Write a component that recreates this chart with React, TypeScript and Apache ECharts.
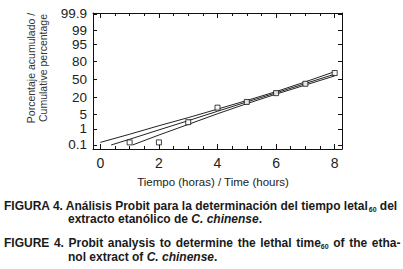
import React, { useEffect, useRef } from "react";
import * as echarts from "echarts";

// Observed cumulative mortality (%) per hour
const hours = [1, 2, 3, 4, 5, 6, 7, 8];
const observedPct = [0.15, 0.15, 2.2, 9.2, 14.5, 26, 42, 62];

// Fitted probit line and confidence limits (%)
const fitHours = [0.37, 1, 2, 3, 4, 5, 6, 7, 8];
const fitPct = [0.1, 0.24, 0.87, 2.6, 6.7, 14.5, 26.4, 42.5, 59.9];
const upperHours = [0, 1, 2, 3, 4, 5, 6, 7, 8];
const upperPct = [0.15, 0.49, 1.46, 3.6, 8.1, 16.1, 28.4, 45.6, 64.4];
const lowerHours = [1.1, 2, 3, 4, 5, 6, 7, 8];
const lowerPct = [0.1, 0.44, 1.7, 5.3, 12.7, 24.5, 39.7, 56.7];

// Axis ticks
const yTickPct = [0.1, 1, 5, 20, 50, 80, 95, 99, 99.9];
const yTickLabels = ["0.1", "1", "5", "20", "50", "80", "95", "99", "99.9"];
const xMajorTicks = [0, 2, 4, 6, 8];
const xMinorTicks = [0, 0.5, 1, 1.5, 2, 2.5, 3, 3.5, 4, 4.5, 5, 5.5, 6, 6.5, 7, 7.5, 8];

const xAxisName = "Tiempo (horas) / Time (hours)";
const yAxisName = ["Porcentaje acumulado /", "Cumulative percentage"];

// inverse standard normal CDF (Acklam)
function probit(pct: number): number {
  const p = pct / 100;
  const a = [-3.969683028665376e1, 2.209460984245205e2, -2.759285104469687e2, 1.38357751867269e2, -3.066479806614716e1, 2.506628277459239];
  const b = [-5.447609879822406e1, 1.615858368580409e2, -1.556989798598866e2, 6.680131188771972e1, -1.328068155288572e1];
  const c = [-7.784894002430293e-3, -3.223964580411365e-1, -2.400758277161838, -2.549732539343734, 4.374664141464968, 2.938163982698783];
  const d = [7.784695709041462e-3, 3.224671290700398e-1, 2.445134137142996, 3.754408661907416];
  const pl = 0.02425;
  if (p < pl) {
    const q = Math.sqrt(-2 * Math.log(p));
    return (((((c[0] * q + c[1]) * q + c[2]) * q + c[3]) * q + c[4]) * q + c[5]) / ((((d[0] * q + d[1]) * q + d[2]) * q + d[3]) * q + 1);
  }
  if (p > 1 - pl) {
    const q = Math.sqrt(-2 * Math.log(1 - p));
    return -(((((c[0] * q + c[1]) * q + c[2]) * q + c[3]) * q + c[4]) * q + c[5]) / ((((d[0] * q + d[1]) * q + d[2]) * q + d[3]) * q + 1);
  }
  const q = p - 0.5;
  const r = q * q;
  return ((((((a[0] * r + a[1]) * r + a[2]) * r + a[3]) * r + a[4]) * r + a[5]) * q) / (((((b[0] * r + b[1]) * r + b[2]) * r + b[3]) * r + b[4]) * r + 1);
}

const FONT = "'Liberation Sans', Arial, sans-serif";

export default function App() {
  const ref = useRef<HTMLDivElement>(null);

  useEffect(() => {
    if (!ref.current) return;
    const chart = echarts.init(ref.current, undefined, { renderer: "svg" });
    const yTickVals = yTickPct.map(probit);
    const pairs = (xs: number[], ps: number[]) => xs.map((x, i) => [x, probit(ps[i])]);
    const labelFor = (v: number) => {
      let best = 0;
      yTickVals.forEach((t, i) => {
        if (Math.abs(t - v) < Math.abs(yTickVals[best] - v)) best = i;
      });
      return yTickLabels[best];
    };
    const axisLine = { show: true, onZero: false, lineStyle: { color: "#111", width: 1 } };
    const noLine = { show: false, onZero: false };
    const lineSeries = (name: string, data: number[][]) => ({
      name,
      type: "line",
      data,
      showSymbol: false,
      symbol: "none",
      lineStyle: { color: "#222", width: 1 },
      z: 2,
    });
    const xBase = {
      type: "value",
      min: -0.25,
      max: 8.25,
      splitLine: { show: false },
      gridIndex: 0,
    };
    const yBase = {
      type: "value",
      min: -3.279,
      max: 3.137,
      splitLine: { show: false },
      axisLine,
    };
    const capBold = { fontSize: 12, fontWeight: "bold", fill: "#1a1a1a", fontFamily: FONT, lineHeight: 14 };
    const capSub = { fontSize: 7, fontWeight: "bold", fill: "#1a1a1a", fontFamily: FONT, lineHeight: 14, verticalAlign: "bottom", padding: [5, 0, 0, 0] };
    const capItal = { ...capBold, fontStyle: "italic" };
    // justified third caption line: widen the word spaces
    const line3 =
      "{b|FIGURE}{sp| }{b|4.}{sp| }{b|Probit}{sp| }{b|analysis}{sp| }{b|to}{sp| }{b|determine}{sp| }" +
      "{b|the}{sp| }{b|lethal}{sp| }{b|time}{s|60}{sp| }{b|of}{sp| }{b|the}{sp| }{b|etha-}";
    chart.setOption({
      animation: false,
      backgroundColor: "#fff",
      textStyle: { fontFamily: FONT },
      grid: { left: 93, top: 13, width: 249, height: 136, containLabel: false },
      xAxis: [
        {
          ...xBase,
          position: "bottom",
          axisLine,
          axisTick: { show: true, inside: true, length: 5, customValues: xMajorTicks, lineStyle: { color: "#111" } },
          axisLabel: { show: true, customValues: xMajorTicks, fontSize: 14, color: "#222", margin: 7, fontFamily: FONT },
          name: xAxisName,
          nameLocation: "middle",
          nameGap: 27,
          nameTextStyle: { fontSize: 11.5, color: "#222", fontFamily: FONT, padding: [0, 9, 0, 0] },
        },
        {
          ...xBase,
          position: "bottom",
          axisLine: noLine,
          axisTick: { show: true, inside: true, length: 3, customValues: xMinorTicks, lineStyle: { color: "#111" } },
          axisLabel: { show: false },
        },
        {
          ...xBase,
          position: "top",
          axisLine,
          axisTick: { show: true, inside: true, length: 5, customValues: xMajorTicks, lineStyle: { color: "#111" } },
          axisLabel: { show: false },
        },
        {
          ...xBase,
          position: "top",
          axisLine: noLine,
          axisTick: { show: true, inside: true, length: 3, customValues: xMinorTicks, lineStyle: { color: "#111" } },
          axisLabel: { show: false },
        },
      ],
      yAxis: [
        {
          ...yBase,
          position: "left",
          axisTick: { show: true, inside: true, length: 4, customValues: yTickVals, lineStyle: { color: "#111" } },
          axisLabel: {
            show: true,
            customValues: yTickVals,
            formatter: (v: number) => labelFor(v),
            fontSize: 13.5,
            lineHeight: 12,
            color: "#222",
            margin: 6,
            fontFamily: FONT,
          },
        },
        {
          ...yBase,
          position: "right",
          axisTick: { show: true, inside: true, length: 4, customValues: yTickVals, lineStyle: { color: "#111" } },
          axisLabel: { show: false },
        },
      ],
      series: [
        lineSeries("Límite superior", pairs(upperHours, upperPct)),
        lineSeries("Ajuste probit", pairs(fitHours, fitPct)),
        lineSeries("Límite inferior", pairs(lowerHours, lowerPct)),
        {
          name: "Observado",
          type: "scatter",
          data: pairs(hours, observedPct),
          symbol: "rect",
          symbolSize: 5,
          itemStyle: { color: "#fff", borderColor: "#111", borderWidth: 1 },
          z: 5,
        },
      ],
      graphic: [
        {
          type: "text",
          x: 37,
          y: 68,
          rotation: Math.PI / 2,
          style: {
            text: yAxisName.join("\n"),
            fontSize: 10.5,
            lineHeight: 12,
            fill: "#333",
            fontFamily: FONT,
            align: "center",
            verticalAlign: "middle",
          },
        },
        {
          type: "text",
          x: 4,
          y: 206,
          style: {
            text: "{b|FIGURA 4. Análisis Probit para la determinación del tiempo letal}{s|60}{b| del}",
            verticalAlign: "middle",
            rich: { b: capBold, s: capSub },
          },
        },
        {
          type: "text",
          x: 68,
          y: 219,
          style: {
            text: "{b|extracto etanólico de }{i|C. chinense}{b|.}",
            verticalAlign: "middle",
            rich: { b: capBold, i: capItal },
          },
        },
        {
          type: "text",
          x: 4,
          y: 243,
          style: {
            text: line3,
            verticalAlign: "middle",
            rich: { b: capBold, s: capSub, sp: { ...capBold, width: 4.6 } },
          },
        },
        {
          type: "text",
          x: 68,
          y: 257,
          style: {
            text: "{b|nol extract of }{i|C. chinense}{b|.}",
            verticalAlign: "middle",
            rich: { b: capBold, i: capItal },
          },
        },
      ],
    });
    return () => chart.dispose();
  }, []);

  return (
    <div
      ref={ref}
      style={{ position: "absolute", left: 0, top: 0, width: 403, height: 269, background: "#fff" }}
    />
  );
}
